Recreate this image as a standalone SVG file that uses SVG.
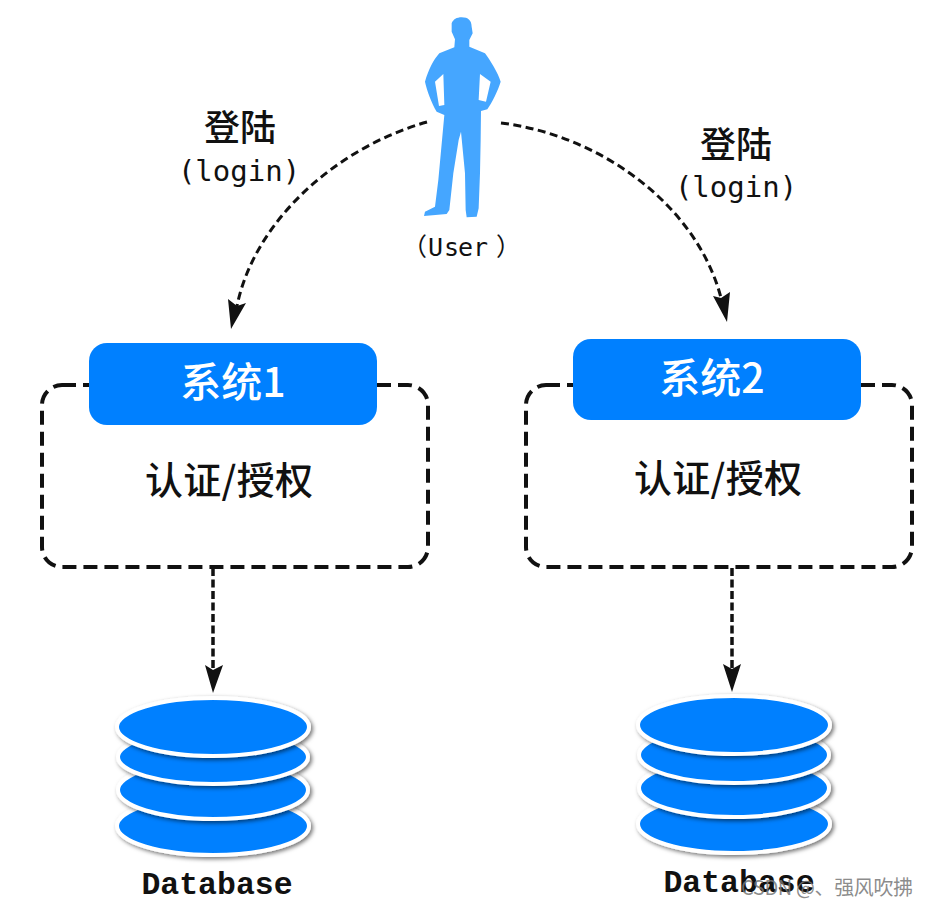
<svg xmlns="http://www.w3.org/2000/svg" width="927" height="907" viewBox="0 0 927 907">
<style>
text{font-family:"Noto Sans CJK SC","Liberation Sans",sans-serif;text-anchor:middle;fill:#111}
.mono{font-family:"DejaVu Sans Mono","Noto Sans CJK SC",monospace}
.db{font-family:"Liberation Mono","Noto Sans CJK SC",monospace;font-weight:700;font-size:31.5px}
.cjk{font-weight:500}
.sys{font-size:41px;font-weight:500;fill:#fff}
.frame{fill:#fff;stroke:#111;stroke-width:4;stroke-dasharray:14 7}
.blue{fill:#0080ff}
.disk{fill:#0080ff;stroke:#fff;stroke-width:4;filter:url(#sh)}
.link{fill:none;stroke:#111;stroke-width:3;stroke-dasharray:8 4.5}
.vlink{fill:none;stroke:#111;stroke-width:3.5;stroke-dasharray:8 3.5}
.head{fill:#111}
</style>
<defs>
<filter id="sh" x="-10%" y="-20%" width="125%" height="150%"><feDropShadow dx="2" dy="2" stdDeviation="2.2" flood-color="#000" flood-opacity=".55"/></filter>
</defs>
<rect width="927" height="907" fill="#fff"/>
<g id="connectors">
<path class="link" d="M427 122C335 148 254 222 237 306"/>
<path class="head" d="M231 329L228 299L237 306L246 303Z"/>
<path class="link" d="M501 123C600 135 697 205 721 298"/>
<path class="head" d="M727 322L713 296L721 298L730 292Z"/>
<path class="vlink" d="M213 568V670"/>
<path class="head" d="M213 693L205 665L213 670L223 665Z"/>
<path class="vlink" d="M732 568V668"/>
<path class="head" d="M732 692L723 664L732 669L741 664Z"/>
</g>
<g id="user">
<path fill="#45a6ff" fill-rule="evenodd" transform="translate(400 0) scale(.3333)" d="M185 52C205 52 215 62 215 80L218 100L208 120L208 140L255 160C270 180 295 220 302 245C295 270 275 310 262 328L243 333L242 420L240 520L236 625L230 650L200 652L197 630L195 520L183 395L176 420L160 520L148 630L140 642L72 648L75 635L105 620L115 540L133 345L110 335C95 310 80 270 75 245C85 210 100 180 118 160L163 142L165 118L155 95L155 70C160 58 170 52 185 52ZM130 222L105 245L117 318L133 315ZM240 222L272 245L258 305L236 300Z"/>
<text y="256" font-size="25" class="mono" style="text-anchor:start" x="402 428 444 458 473 496">（User）</text>
</g>
<g id="login-left"><text x="240" y="141" font-size="36" class="cjk">登陆</text><text x="239" y="181" font-size="29" class="mono">(login)</text></g>
<g id="login-right"><text x="736" y="158" font-size="36" class="cjk">登陆</text><text x="736" y="197" font-size="29" class="mono">(login)</text></g>
<g id="system1">
<rect class="frame" x="42" y="385" width="386" height="182" rx="20"/>
<rect class="blue" x="89" y="343" width="288" height="82" rx="18"/>
<text x="233" y="397" class="sys">系统1</text>
<text x="229" y="494" font-size="38" class="cjk" textLength="168">认证/授权</text>
</g>
<g id="system2">
<rect class="frame" x="526" y="385" width="386" height="182" rx="20"/>
<rect class="blue" x="573" y="339" width="288" height="81" rx="18"/>
<text x="712" y="393" class="sys">系统2</text>
<text x="718" y="492" font-size="38" class="cjk" textLength="168">认证/授权</text>
</g>
<g id="database1">
<ellipse class="disk" cx="213" cy="826" rx="96" ry="29"/>
<ellipse class="disk" cx="213" cy="790" rx="95" ry="29"/>
<ellipse class="disk" cx="213" cy="757" rx="95" ry="27"/>
<ellipse class="disk" cx="213" cy="727" rx="96" ry="29"/>
<text x="217" y="894" class="db">Database</text>
</g>
<g id="database2">
<ellipse class="disk" cx="734" cy="824" rx="96" ry="29"/>
<ellipse class="disk" cx="734" cy="788" rx="95" ry="29"/>
<ellipse class="disk" cx="734" cy="755" rx="95" ry="28"/>
<ellipse class="disk" cx="734" cy="725" rx="96" ry="29"/>
<text x="739" y="892" class="db">Database</text>
</g>
<g id="watermark"><text x="827" y="895" font-size="20" style="fill:#777;fill-opacity:.85" textLength="172">CSDN @、强风吹拂</text></g>
</svg>
